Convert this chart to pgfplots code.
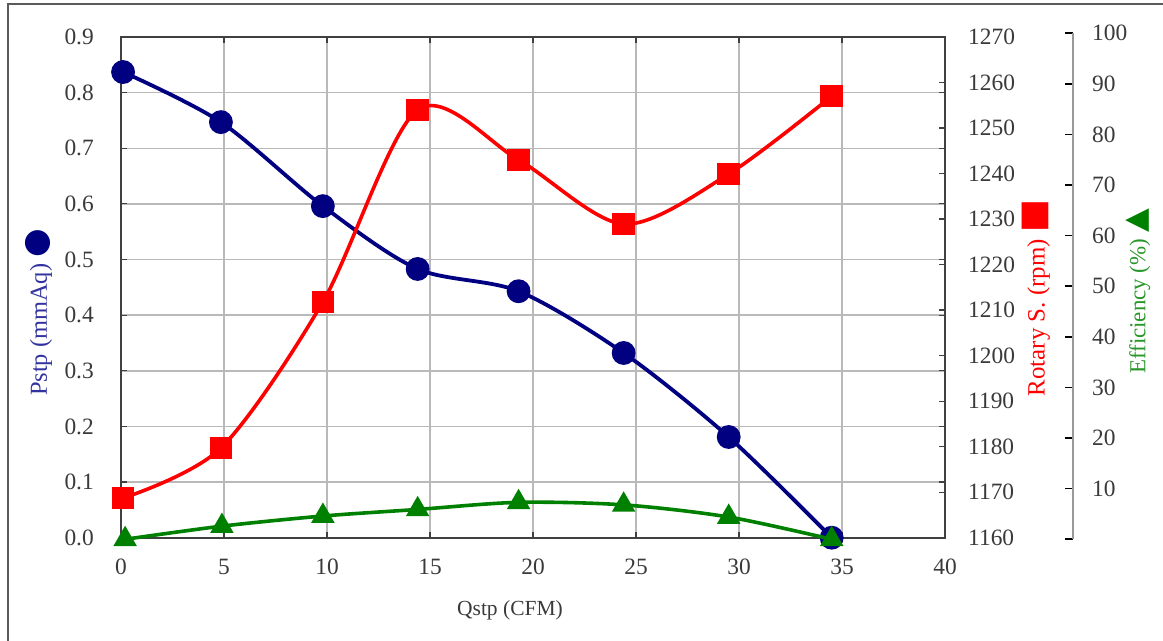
\documentclass[border=0pt]{standalone}
\usepackage{fontspec}
\setmainfont{Liberation Serif}
\newfontfamily\symfont{DejaVu Sans}
\usepackage{pgfplots}
\pgfplotsset{compat=1.18}
\definecolor{pblue}{RGB}{0,0,128}
\definecolor{plabel}{RGB}{51,51,160}
\definecolor{rred}{RGB}{255,0,0}
\definecolor{egreen}{RGB}{0,128,0}
\definecolor{elabel}{RGB}{40,150,40}
\definecolor{tickgray}{RGB}{58,58,58}
\definecolor{gridgray}{RGB}{185,185,185}
\definecolor{axisgray}{RGB}{64,64,64}
\definecolor{framegray}{RGB}{90,90,90}

\pgfplotstableread{
x y
0.1 0.837
4.85 0.747
9.8 0.596
14.4 0.483
19.3 0.443
24.4 0.332
29.5 0.181
34.5 0.0
}\pstp
\pgfplotstableread{
x y
0.1 1168.7
4.85 1179.7
9.8 1211.8
14.4 1254
19.3 1243
24.4 1228.9
29.5 1239.9
34.5 1257
}\rpm
\pgfplotstableread{
x y
0.2 0.0
4.9 2.6
9.8 4.6
14.4 5.9
19.3 7.3
24.4 6.8
29.5 4.4
34.5 0.0
}\eff

\begin{document}
\begin{tikzpicture}[x=1bp,y=1bp]
\useasboundingbox (0,0) rectangle (1163,641);
\draw[color=framegray, line width=2bp] (7.5,0) -- (7.5,637) -- (1163,637);

\pgfplotsset{every axis/.append style={scale only axis, clip=false,
  /pgf/number format/assume math mode=true,
  tick label style={font=\fontsize{23.5}{24}\selectfont, text=tickgray}}}

\begin{axis}[at={(121bp,103.3bp)}, anchor=south west, width=824bp, height=500.7bp,
  xmin=0, xmax=40, ymin=0, ymax=0.9,
  xtick={0,5,10,15,20,25,30,35,40},
  ytick={0,0.1,0.2,0.3,0.4,0.5,0.6,0.7,0.8,0.9},
  yticklabels={0.0,0.1,0.2,0.3,0.4,0.5,0.6,0.7,0.8,0.9},
  grid=major, grid style={gridgray, line width=1.5bp},
  axis line style={axisgray, line width=1.8bp},
  tick align=inside, major tick length=6bp, tick style={axisgray, line width=1.2bp},
  xticklabel style={anchor=north, inner sep=0pt, yshift=-21bp},
  yticklabel style={anchor=east, inner sep=0pt, xshift=-27bp}]
\addplot[pblue, line width=3.8bp, smooth, mark=*, mark size=10bp, mark options={solid, fill=pblue}] table {\pstp};
\end{axis}

\begin{axis}[at={(121bp,103.3bp)}, anchor=south west, width=824bp, height=500.7bp,
  xmin=0, xmax=40, ymin=1160, ymax=1270,
  axis y line*=right, axis x line=none,
  ytick={1160,1170,1180,1190,1200,1210,1220,1230,1240,1250,1260,1270},
  yticklabels={1160,1170,1180,1190,1200,1210,1220,1230,1240,1250,1260,1270},
  axis line style={axisgray, line width=1.8bp},
  tick align=inside, major tick length=6bp, tick style={axisgray, line width=1.2bp},
  yticklabel style={anchor=west, inner sep=0pt, xshift=23bp}]
\addplot[rred, line width=3.6bp, smooth, mark=square*, mark size=9.5bp, mark options={solid, fill=rred}] table {\rpm};
\end{axis}

\begin{axis}[at={(121bp,101.7bp)}, anchor=south west, width=952bp, height=506bp,
  xmin=0, xmax=46.2136, ymin=0, ymax=100,
  axis y line*=right, axis x line=none,
  ytick={0,10,20,30,40,50,60,70,80,90,100},
  yticklabels={,10,20,30,40,50,60,70,80,90,100},
  axis line style={gray!80, line width=2bp},
  tick align=inside, major tick length=8bp, tick style={black, line width=1.6bp},
  yticklabel style={anchor=west, inner sep=0pt, xshift=19bp}]
\addplot[egreen, line width=3.6bp, smooth, mark=triangle*, mark size=10bp, mark options={solid, fill=egreen}] table {\eff};
\end{axis}

\node[rotate=90, text=plabel, font=\fontsize{24.5}{25}\selectfont] at (39,328.5) {Pstp (mmAq) {\color{pblue}\symfont\fontsize{33}{33}\selectfont ●}};
\node[rotate=90, text=rred, font=\fontsize{25}{25}\selectfont] at (1036,343) {Rotary S. (rpm) {\symfont\fontsize{35}{35}\selectfont ■}};
\node[rotate=90, text=elabel, font=\fontsize{23}{25}\selectfont] at (1138,349.5) {Efficiency (\%) {\color{egreen}\symfont\fontsize{31}{31}\selectfont ▲}};
\node[text=tickgray, font=\fontsize{21.6}{22}\selectfont] at (510,31) {Qstp (CFM)};
\end{tikzpicture}
\end{document}
